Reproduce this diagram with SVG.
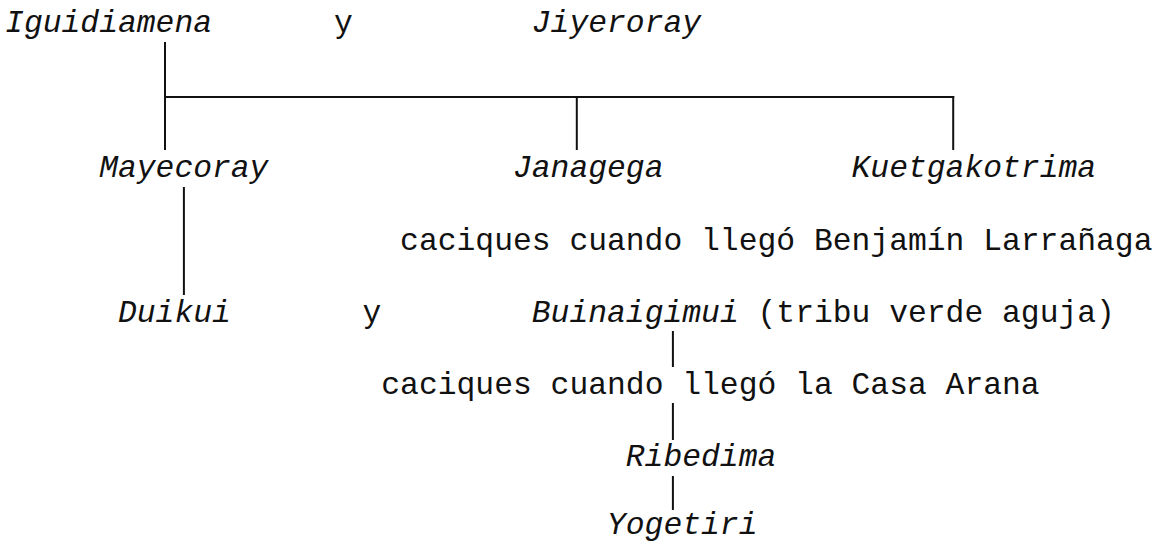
<svg xmlns="http://www.w3.org/2000/svg" width="1160" height="544" viewBox="0 0 1160 544">
<style>
text{font-family:"Liberation Mono","Courier New",monospace;font-size:31.35px;fill:#111;}
.n{font-style:italic;}
.c line{stroke:#111;stroke-width:2;fill:none;}
</style>
<rect width="1160" height="544" fill="#fff"/>
<g class="c" id="connectors">
<line x1="165" y1="42" x2="165" y2="150"/>
<line x1="164" y1="97" x2="954.2" y2="97"/>
<line x1="576.8" y1="97" x2="576.8" y2="150"/>
<line x1="953.2" y1="96" x2="953.2" y2="150"/>
<line x1="183.9" y1="187" x2="183.9" y2="295"/>
<line x1="672.9" y1="331" x2="672.9" y2="367"/>
<line x1="672.9" y1="403" x2="672.9" y2="440"/>
<line x1="672.9" y1="476" x2="672.9" y2="510"/>
</g>
<g id="iguidiamena"><text class="n" x="5.1" y="32">Iguidiamena</text></g>
<g id="y1"><text x="334" y="32">y</text></g>
<g id="jiyeroray"><text class="n" x="531.8" y="32">Jiyeroray</text></g>
<g id="mayecoray"><text class="n" x="99.15" y="177">Mayecoray</text></g>
<g id="janagega"><text class="n" x="513" y="177">Janagega</text></g>
<g id="kuetgakotrima"><text class="n" x="851.55" y="177">Kuetgakotrima</text></g>
<g id="caciques1"><text x="400.1" y="250">caciques cuando llegó Benjamín Larrañaga</text></g>
<g id="duikui"><text class="n" x="117.96" y="321.5">Duikui</text></g>
<g id="y2"><text x="362.5" y="321.5">y</text></g>
<g id="buinaigimui"><text x="531.8" y="321.5"><tspan class="n">Buinaigimui</tspan> (tribu verde aguja)</text></g>
<g id="caciques2"><text x="381.3" y="394">caciques cuando llegó la Casa Arana</text></g>
<g id="ribedima"><text class="n" x="625.8" y="466">Ribedima</text></g>
<g id="yogetiri"><text class="n" x="607" y="534">Yogetiri</text></g>
</svg>
